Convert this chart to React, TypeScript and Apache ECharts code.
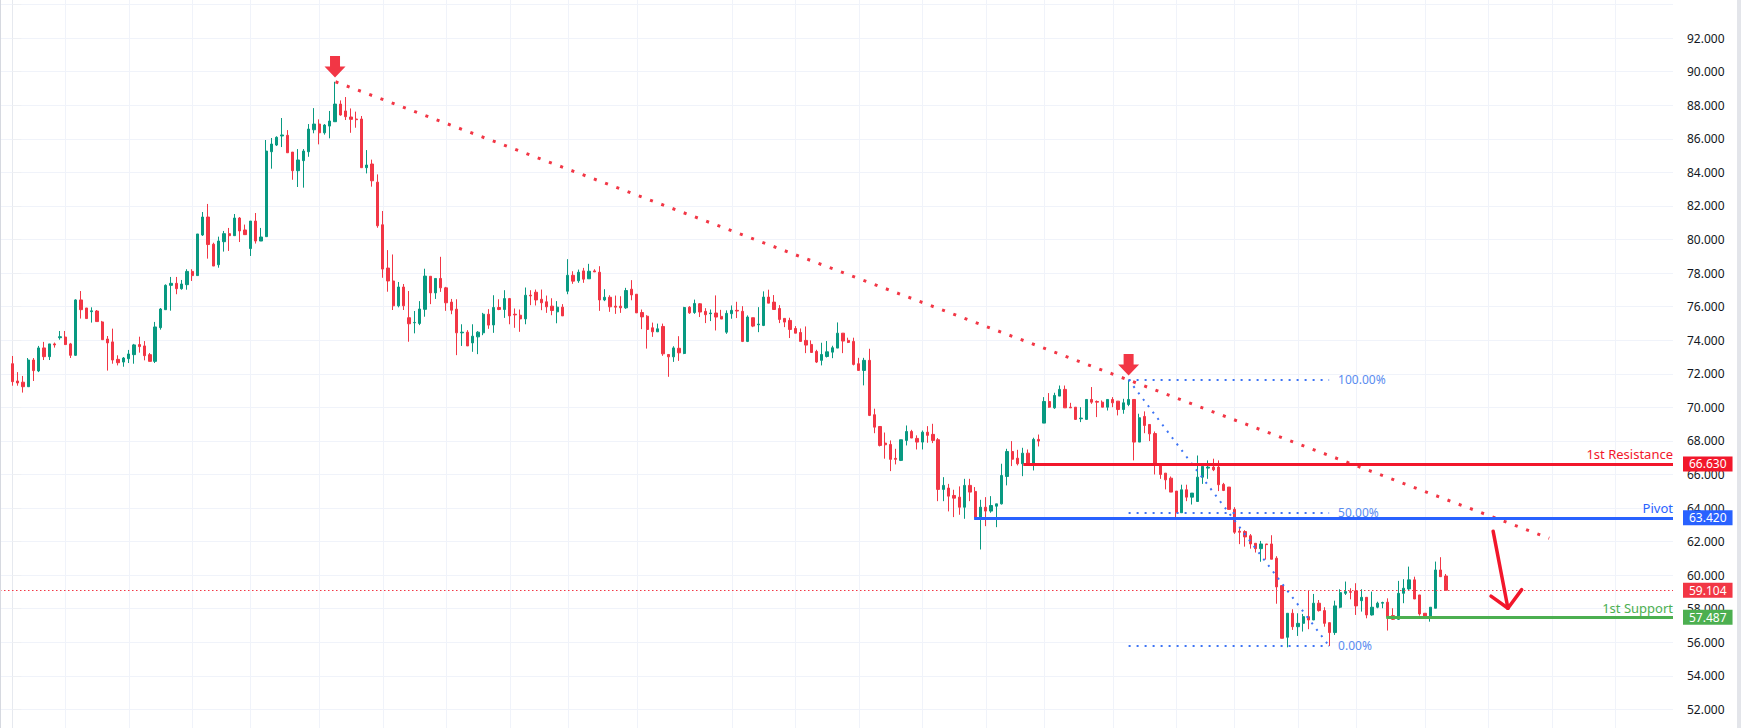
import React, { useEffect, useRef } from "react";
import * as echarts from "echarts";

// ---- candle data (index = bar number) ----
const opens = [
  72.60,71.57,71.50,71.23,72.82,72.17,73.54,73.02,73.78,74.15,
  74.19,73.78,73.10,76.40,75.92,75.70,75.74,75.09,74.07,73.90,
  72.86,72.70,72.90,73.14,73.74,73.66,73.14,72.74,74.75,75.82,
  77.27,77.39,77.07,77.31,78.10,77.85,80.27,81.34,79.72,78.50,
  79.87,80.35,80.23,81.28,80.57,79.46,81.10,79.91,80.17,85.23,
  85.63,86.17,86.21,85.21,84.10,84.70,85.23,86.54,86.88,86.36,
  86.76,87.02,88.07,87.66,87.30,87.18,87.18,84.28,84.50,83.42,
  80.88,78.30,77.53,76.05,77.17,75.34,75.04,75.00,75.84,77.81,
  76.82,77.68,77.12,76.27,75.85,74.44,74.48,73.84,74.20,74.44,
  75.55,74.91,75.95,75.83,76.48,75.55,75.49,75.27,76.68,76.86,
  76.44,76.29,76.03,75.69,75.97,76.92,77.87,77.54,78.13,77.66,
  78.13,78.05,76.40,76.56,76.03,76.03,75.93,77.04,76.74,75.65,
  75.43,74.74,74.50,74.82,73.15,73.01,73.52,73.21,75.97,75.65,
  76.17,75.72,75.58,75.62,75.42,74.48,75.58,75.78,75.72,73.93,
  75.34,74.92,74.88,76.57,76.27,75.89,75.30,75.18,74.70,74.46,
  73.99,73.75,73.33,72.80,73.03,73.29,73.53,74.42,73.99,73.93,
  72.60,72.20,72.80,69.56,68.86,67.87,67.79,66.96,66.84,68.03,
  68.56,68.15,67.93,68.52,68.39,68.07,65.11,65.19,64.75,64.65,
  64.05,65.35,64.99,63.40,64.05,63.82,64.11,64.25,65.88,67.37,
  66.97,66.64,67.27,66.60,68.09,69.06,70.35,69.97,70.67,71.07,
  70.01,70.01,69.32,69.28,70.47,70.35,70.31,70.01,70.47,70.37,
  69.87,70.17,70.47,67.93,69.46,68.98,68.44,66.60,66.08,65.78,
  65.01,63.72,65.09,64.65,64.39,65.84,66.38,66.44,66.44,65.41,
  65.25,63.92,62.62,62.60,62.35,61.90,61.58,61.86,61.86,61.01,
  59.38,56.30,57.73,56.93,57.13,57.53,57.33,58.33,57.89,57.17,
  56.58,58.09,58.92,59.02,59.06,58.48,58.68,57.63,58.09,58.33,
  58.39,57.59,57.37,58.92,59.18,59.72,58.82,57.73,57.57,58.03,
  60.31,59.95,
];
const closes = [
  71.53,71.45,71.23,72.82,72.19,73.54,73.02,73.78,73.72,74.21,
  73.74,73.10,76.40,75.82,75.29,75.75,75.11,74.03,73.84,72.82,
  72.66,72.94,73.18,73.72,73.62,73.08,72.74,74.79,75.86,77.27,
  77.39,77.07,77.35,78.10,77.85,80.33,81.34,79.70,78.42,79.91,
  80.35,80.23,81.28,80.51,80.29,81.10,79.91,80.15,85.27,85.69,
  86.09,86.23,85.17,84.10,84.74,85.27,86.58,86.88,86.36,86.82,
  87.06,88.07,87.42,87.32,87.16,87.14,84.28,84.44,83.50,80.82,
  78.24,77.53,76.05,77.17,76.05,74.98,75.06,75.86,77.82,76.82,
  77.68,77.12,76.23,75.79,74.44,74.48,73.66,74.24,74.48,75.55,
  74.90,75.95,75.83,76.48,75.45,75.51,75.27,76.68,76.64,76.40,
  76.23,75.99,75.77,75.97,75.45,77.87,77.52,78.05,77.64,78.11,
  78.07,76.40,76.56,75.99,75.97,75.93,76.96,76.70,75.63,75.39,
  74.64,74.50,74.68,73.19,73.01,73.54,73.25,75.95,75.63,76.19,
  75.68,75.52,75.62,75.38,75.26,75.60,75.78,75.74,73.93,75.38,
  74.84,74.96,76.57,76.21,75.83,75.24,75.08,74.64,74.42,73.93,
  73.71,73.27,72.70,73.15,73.31,73.55,74.42,73.95,73.87,72.56,
  72.20,72.80,69.52,68.82,67.73,67.77,66.90,66.90,68.07,68.56,
  68.17,67.93,68.52,68.33,68.03,65.11,65.35,64.71,64.59,64.05,
  65.35,64.95,63.40,64.05,63.82,64.15,64.25,65.94,67.37,66.91,
  66.64,67.27,66.60,68.09,67.99,70.35,70.01,70.71,71.07,69.97,
  69.97,69.28,69.36,70.47,70.31,70.31,70.01,70.47,70.27,69.87,
  70.27,70.47,67.93,69.38,68.92,68.42,66.62,66.00,65.68,64.95,
  63.72,65.09,64.65,64.89,65.84,66.48,66.44,66.28,65.39,65.05,
  63.92,62.56,62.56,62.28,61.86,61.58,61.86,61.82,60.95,59.30,
  56.24,57.73,56.93,57.13,57.53,57.33,58.33,57.89,57.13,56.58,
  58.17,58.96,59.02,58.98,58.17,58.68,57.63,58.09,58.33,58.37,
  57.49,57.37,58.92,59.22,59.72,58.58,57.69,57.57,58.09,60.31,
  59.91,59.104,
];
const highs = [
  73.06,72.10,71.87,72.94,72.94,73.66,73.90,73.78,73.86,74.55,
  74.55,73.84,76.44,76.93,75.92,75.96,75.80,75.15,74.25,74.69,
  73.10,73.00,73.42,73.78,74.21,73.95,73.24,75.09,75.92,77.33,
  77.77,77.77,77.59,78.23,78.23,80.33,81.64,82.12,79.81,80.17,
  80.51,80.69,81.52,81.34,80.89,81.10,81.58,80.69,85.93,86.05,
  86.15,87.24,86.52,85.21,85.39,85.39,86.88,87.83,87.16,86.88,
  87.66,89.40,88.29,88.49,87.81,87.62,87.36,85.33,84.76,83.88,
  81.70,79.37,79.11,77.47,77.35,76.93,75.74,76.33,78.26,77.81,
  77.68,78.97,77.18,76.46,76.44,74.95,74.60,74.95,74.54,75.63,
  75.85,76.68,76.44,76.98,76.52,75.89,75.83,77.14,76.98,77.02,
  77.02,76.66,76.50,76.33,76.15,78.83,78.11,78.21,78.31,78.55,
  78.23,78.41,77.04,76.68,76.66,76.62,77.12,77.58,76.74,75.83,
  75.49,75.05,74.99,74.99,73.15,73.64,74.24,75.99,76.03,76.42,
  76.21,75.91,75.83,76.67,75.81,75.78,76.07,76.29,76.03,75.48,
  75.34,75.97,76.91,77.01,76.69,76.09,75.30,75.34,74.84,74.70,
  74.82,73.99,73.43,73.85,73.95,73.67,75.06,74.42,74.15,74.15,
  72.95,72.95,73.49,69.92,68.86,68.50,68.03,67.53,68.07,68.92,
  68.66,68.33,68.62,68.88,69.02,68.17,65.84,65.44,65.09,65.29,
  65.74,65.74,65.25,64.49,64.65,64.71,64.25,66.64,67.53,67.99,
  67.47,67.59,67.49,68.19,68.38,70.61,70.85,70.87,71.30,71.30,
  70.27,70.01,70.01,70.47,71.21,70.41,70.41,70.47,70.61,70.37,
  70.51,71.64,70.47,69.62,69.76,68.98,68.56,66.64,66.08,65.88,
  65.01,65.39,65.39,64.89,67.13,66.48,66.84,66.94,66.84,65.50,
  65.25,64.05,62.88,62.68,62.45,61.90,62.04,61.86,62.38,61.13,
  59.38,57.73,57.97,57.73,57.69,59.08,58.88,58.52,58.09,57.17,
  58.48,59.16,59.62,59.22,59.52,59.16,58.68,59.02,58.42,58.42,
  58.62,58.03,59.66,59.76,60.51,59.91,58.82,57.73,58.09,60.81,
  61.07,60.07,
];
const lows = [
  71.29,71.29,70.88,71.23,71.57,72.10,72.82,72.82,73.56,74.03,
  73.72,72.94,73.06,75.29,75.29,75.05,75.11,74.03,72.19,72.60,
  72.50,72.42,72.64,72.60,73.26,72.80,72.74,72.64,74.63,75.82,
  75.76,76.74,77.01,77.01,77.53,77.85,80.21,78.86,78.42,78.32,
  79.28,79.32,80.23,79.85,80.29,79.02,79.76,79.91,80.17,84.22,
  85.57,85.51,85.17,83.56,83.13,83.09,84.93,86.33,85.67,86.25,
  86.03,87.02,87.38,87.12,86.36,86.66,84.28,83.94,83.15,80.70,
  77.72,76.89,75.80,75.96,75.80,73.91,74.41,74.90,75.40,76.15,
  76.46,76.88,75.75,75.55,73.11,73.66,73.66,73.31,73.17,74.30,
  74.68,74.44,75.79,75.33,74.95,74.74,74.50,74.95,76.09,76.07,
  75.79,75.63,75.49,75.01,75.45,76.74,77.36,77.42,77.42,77.66,
  78.07,75.75,76.33,75.69,75.57,75.63,75.87,76.38,75.63,74.66,
  73.50,74.20,74.50,73.07,71.82,72.71,72.77,73.17,75.57,75.57,
  75.38,75.02,75.14,74.58,75.26,74.38,75.28,75.32,73.89,73.89,
  74.78,74.48,74.84,76.21,75.83,75.02,74.78,74.13,74.42,73.93,
  73.23,73.27,72.64,72.50,72.97,72.93,73.53,73.23,73.83,72.50,
  72.20,71.31,69.48,68.46,67.67,66.94,66.20,66.60,66.80,67.73,
  68.17,67.49,67.49,67.89,67.87,64.41,64.41,63.80,63.46,63.60,
  63.36,64.41,63.40,61.53,62.92,63.72,62.86,64.21,65.35,66.50,
  66.54,65.90,66.60,66.24,67.67,69.06,69.97,69.91,70.67,69.97,
  69.97,69.28,69.12,69.28,70.21,69.42,70.01,69.81,70.01,69.52,
  69.62,70.07,66.84,67.93,68.46,67.99,66.00,65.74,65.11,64.95,
  63.32,63.72,64.41,64.21,64.39,65.44,65.74,66.20,65.01,65.01,
  63.92,62.46,61.85,61.70,61.58,61.35,60.80,60.93,60.95,58.30,
  56.24,55.70,56.74,56.38,56.64,56.78,57.33,57.83,56.93,55.78,
  56.44,58.03,58.82,58.56,57.63,57.83,57.43,57.59,58.03,58.03,
  56.70,57.33,57.33,58.33,59.12,58.58,57.59,57.57,57.23,58.03,
  59.91,59.10,
];

// ---- axes ----
const X_MIN = -2.325;
const X_MAX = 313.9;
const Y_MIN = 50;
const Y_MAX = 96;
const Y_STEP = 2;
const Y_LABEL_LOW = 52;
const Y_LABEL_HIGH = 92;
// bar indices where the time grid lines fall
const timeGridBars = [10, 22, 34, 45, 58, 70, 82, 94, 105, 118, 136, 148, 160, 172, 184, 195, 208, 220, 231, 243, 254, 267, 279, 291, 303];

// ---- drawings ----
const trendLine = [[61.1, 89.4], [290.5, 62.2]];
const peakMarks = [[61, 89.4], [211, 71.64]];
const fibBars = [211, 248.9];
const fibHigh = 71.64;
const fibLow = 55.78;
const fibLevels = [1, 0.5, 0];
const fibLabels = ["100.00%", "50.00%", "0.00%"];
const levelNames = ["1st Resistance", "Pivot", "1st Support"];
const levelValues = [66.63, 63.42, 57.487];
const levelStartBars = [191.1, 181.8, 259.7];
const lastPrice = 59.104;
const arrowShaft = [[279.9, 62.62], [282.7, 58.03]];
const arrowHeadLeft = [279.5, 58.75];
const arrowHeadRight = [285.3, 59.14];

const UP = "#089981";
const DOWN = "#f23645";
const LEVEL_COLORS = ["#f2172b", "#2962ff", "#4caf50"];
const BADGE_COLORS = ["#f2172b", "#2962ff", "#4caf50"];
const FIB_COLOR = "#3d74f5";
const FIB_TEXT = "#5a8cf0";
const FONT = "Noto Sans";

// pixel layout of the chart box (one price unit = 16.78 px)
const PX_PER_UNIT = 16.78;
const BOX_TOP = 38 - (Y_MAX - Y_LABEL_HIGH) * PX_PER_UNIT;
const BOX_HEIGHT = (Y_MAX - Y_MIN) * PX_PER_UNIT;

export default function App() {
  const ref = useRef<HTMLDivElement>(null);
  useEffect(() => {
    const chart = echarts.init(ref.current!, null, { renderer: "svg" });
    const candleData = opens.map((o, i) => [i, o, closes[i], lows[i], highs[i]]);

    const hidden = { show: false };
    const seg = (a: number[], b: number[], lineStyle: any, label: any = hidden) => [
      { coord: a, lineStyle, label },
      { coord: b, lineStyle, label },
    ];
    const badge = (text: string, bg: string) => ({
      show: true, position: "end", formatter: text, color: "#ffffff", opacity: 1,
      backgroundColor: bg, padding: [2, 6, 1, 6], fontSize: 12, fontFamily: FONT, distance: 10,
    });

    const markLines: any[] = [];
    // trend line
    markLines.push(seg(trendLine[0], trendLine[1], { color: DOWN, width: 3, type: [3, 9], opacity: 1 }));
    // fib
    const fibStyle = { color: FIB_COLOR, width: 2, type: [2, 6], opacity: 1 };
    fibLevels.forEach((lv, i) => {
      const v = fibLow + (fibHigh - fibLow) * lv;
      markLines.push(
        seg([fibBars[0], v], [fibBars[1], v], fibStyle, {
          show: true, position: "end", formatter: fibLabels[i], color: FIB_TEXT,
          fontSize: 12, fontFamily: FONT, distance: 9,
        })
      );
    });
    markLines.push(seg([fibBars[0], fibHigh], [fibBars[1], fibLow], fibStyle));
    // levels
    levelValues.forEach((v, i) => {
      markLines.push(
        seg([levelStartBars[i], v], [X_MAX, v], { color: LEVEL_COLORS[i], width: 3, type: "solid", opacity: 1 }, {
          show: true, position: "insideEndTop", formatter: levelNames[i], color: LEVEL_COLORS[i],
          fontSize: 13, fontFamily: FONT, distance: [0, 3],
        })
      );
      markLines.push(
        seg([X_MAX - 1, v], [X_MAX, v], { color: "rgba(0,0,0,0)", width: 1, opacity: 1 }, badge(v.toFixed(3), BADGE_COLORS[i]))
      );
    });
    // last price
    markLines.push(
      seg([X_MIN, lastPrice], [X_MAX, lastPrice], { color: DOWN, width: 1, type: [1.5, 2.5], opacity: 1 },
        badge(lastPrice.toFixed(3), DOWN))
    );
    // hand-drawn arrow
    const arrowStyle = { color: "#f2172b", width: 3.5, type: "solid", opacity: 1, cap: "round" };
    markLines.push(seg(arrowShaft[0], arrowShaft[1], arrowStyle));
    markLines.push(seg(arrowHeadLeft, arrowShaft[1], arrowStyle));
    markLines.push(seg(arrowShaft[1], arrowHeadRight, arrowStyle));

    chart.setOption({
      animation: false,
      backgroundColor: "#ffffff",
      grid: { left: 0, right: 68, top: 0, bottom: 0, containLabel: false },
      xAxis: {
        type: "value", min: X_MIN, max: X_MAX, show: false,
      },
      yAxis: {
        type: "value", position: "right", min: Y_MIN, max: Y_MAX, interval: Y_STEP,
        axisLine: { show: true, lineStyle: { color: "#e6e9ef" } },
        axisTick: { show: true, length: 9, lineStyle: { color: "#eef0f4" } },
        axisLabel: {
          margin: 14, color: "#131722", fontSize: 12, fontFamily: FONT,
          formatter: (v: number) => (v < Y_LABEL_LOW || v > Y_LABEL_HIGH ? "" : v.toFixed(3)),
        },
        splitLine: { show: true, lineStyle: { color: "#f0f3fa", width: 1 } },
      },
      series: [
        {
          type: "custom",
          silent: true,
          z: 0,
          data: timeGridBars.map((b) => [b, 70]),
          encode: { x: 0, y: 1 },
          renderItem: (_p: any, api: any) => {
            const x = api.value(0);
            const a = api.coord([x, Y_MAX]);
            const b = api.coord([x, Y_MIN]);
            const px = Math.round(a[0]) + 0.5;
            return {
              type: "line",
              shape: { x1: px, y1: a[1], x2: px, y2: b[1] },
              style: { stroke: "#f0f3fa", lineWidth: 1 },
            };
          },
        },
        {
          type: "candlestick",
          z: 2,
          data: candleData,
          encode: { x: 0, y: [1, 2, 3, 4] },
          barWidth: 2.8,
          itemStyle: { color: UP, color0: DOWN, borderColor: UP, borderColor0: DOWN, borderWidth: 1 },
          markPoint: {
            silent: true,
            symbol: "path://M5.5,0 L15.5,0 L15.5,10.5 L21,10.5 L10.5,21.5 L0,10.5 L5.5,10.5 Z",
            symbolSize: [21, 21.5],
            symbolOffset: [0, -15],
            itemStyle: { color: DOWN },
            label: { show: false },
            data: peakMarks.map((c) => ({ coord: c })),
          },
          markLine: {
            silent: true,
            symbol: ["none", "none"],
            data: markLines,
          },
        },
      ],
    });
    return () => chart.dispose();
  }, []);
  return (
    <div style={{ position: "fixed", left: 0, top: 0, width: 1741, height: 728, overflow: "hidden", background: "#fff" }}>
      <div
        ref={ref}
        style={{ position: "absolute", left: 0, top: BOX_TOP, width: 1741, height: BOX_HEIGHT }}
      />
      <div style={{ position: "absolute", left: 0, top: 0, width: 1, height: 728, background: "#d6d9e0" }} />
      <div style={{ position: "absolute", right: 0, top: 0, width: 4, height: 728, background: "#e3e5ea" }} />
    </div>
  );
}
